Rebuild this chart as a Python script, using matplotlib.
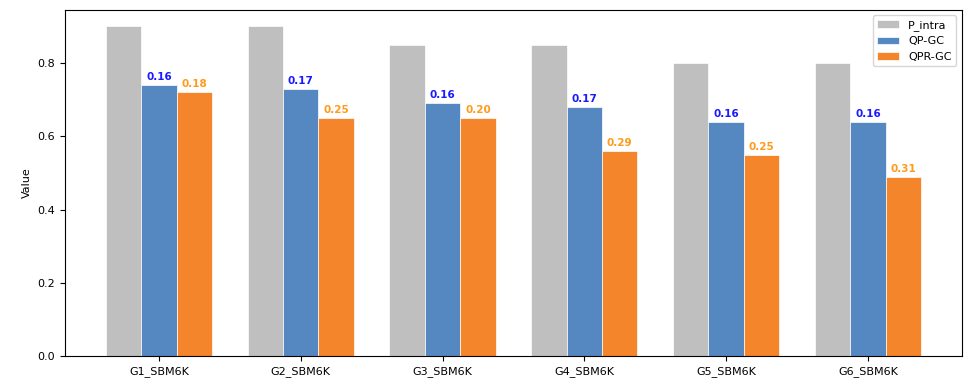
import numpy as np
import matplotlib
matplotlib.use("Agg")
import matplotlib.pyplot as plt

groups = ['G1_SBM6K', 'G2_SBM6K', 'G3_SBM6K', 'G4_SBM6K', 'G5_SBM6K', 'G6_SBM6K']
p_intra = [0.90, 0.90, 0.85, 0.85, 0.80, 0.80]
qp_gc = [0.74, 0.73, 0.69, 0.68, 0.64, 0.64]
qpr_gc = [0.72, 0.65, 0.65, 0.56, 0.55, 0.49]

fig = plt.figure(figsize=(9.77, 3.82), dpi=100)
ax = fig.add_axes([0.0665, 0.068, 0.918, 0.906])

x = np.arange(len(groups))
w = 0.25
ax.bar(x - w, p_intra, w, color='#bfbfbf', edgecolor='white', linewidth=0.5, label='P_intra')
b1 = ax.bar(x, qp_gc, w, color='#5588c0', edgecolor='white', linewidth=0.5, label='QP-GC')
b2 = ax.bar(x + w, qpr_gc, w, color='#f5852a', edgecolor='white', linewidth=0.5, label='QPR-GC')

# gap to P_intra above each bar
for i in range(len(groups)):
    ax.text(x[i], qp_gc[i] + 0.008, f'{p_intra[i] - qp_gc[i]:.2f}', ha='center', va='bottom',
            color='#1a1aff', fontsize=7.5, fontweight='bold')
    ax.text(x[i] + w, qpr_gc[i] + 0.008, f'{p_intra[i] - qpr_gc[i]:.2f}', ha='center', va='bottom',
            color='#ff9a1a', fontsize=7.5, fontweight='bold')

ax.set_xticks(x)
ax.set_xticklabels(groups, fontsize=8)
ax.set_yticks([0.0, 0.2, 0.4, 0.6, 0.8])
ax.tick_params(axis='y', labelsize=8)
ax.set_ylabel('Value', fontsize=8)
ax.legend(loc='upper right', fontsize=8)

plt.savefig('out.png', dpi=100)
